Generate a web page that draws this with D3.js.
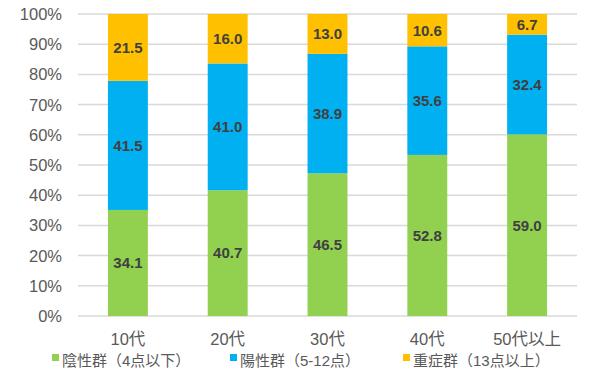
<!DOCTYPE html>
<html><head><meta charset="utf-8">
<script src="https://cdn.jsdelivr.net/npm/d3@7"></script>
<style>body{margin:0;background:#fff}svg{display:block}text{font-family:"Liberation Sans","Noto Sans CJK JP",sans-serif}</style>
</head><body><svg id="c" width="600" height="374"></svg>
<script>
const categories = ["10代","20代","30代","40代","50代以上"];
const seriesNames = ["陰性群（4点以下）","陽性群（5-12点）","重症群（13点以上）"];
const negative = [34.1,40.7,46.5,52.8,59.0];
const positive = [41.5,41.0,38.9,35.6,32.4];
const severe = [21.5,16.0,13.0,10.6,6.7];
const colors = ["#92D050","#00B0F0","#FFC000"];
const yTicks = [0,0.1,0.2,0.3,0.4,0.5,0.6,0.7,0.8,0.9,1.0];

(function(){
const svg = d3.select("#c");
const mLeft = 78, mRight = 577, mTop = 14, mBottom = 316;
const x = d3.scaleBand().domain(categories).range([mLeft,mRight]).paddingInner(0.6).paddingOuter(0.3);
const y = d3.scaleLinear().domain([0,1]).range([mBottom,mTop]);

const rows = categories.map((c,i)=>({cat:c, s0:negative[i], s1:positive[i], s2:severe[i]}));
const keys = ["s0","s1","s2"];
const stacked = d3.stack().keys(keys).offset(d3.stackOffsetExpand)(rows);

svg.append("g").selectAll("line").data(yTicks).join("line")
  .attr("x1",mLeft).attr("x2",mRight)
  .attr("y1",d=>y(d)).attr("y2",d=>y(d))
  .attr("stroke","#d9d9d9").attr("stroke-width",1.5);

svg.append("g").selectAll("text").data(yTicks).join("text")
  .attr("x",62).attr("y",d=>y(d)).attr("dy","0.36em")
  .attr("text-anchor","end").attr("font-size",16.5).attr("fill","#595959")
  .text(d=>d3.format(".0%")(d));

const g = svg.append("g");
stacked.forEach((layer,li)=>{
  g.append("g").selectAll("rect").data(layer).join("rect")
    .attr("x",d=>x(d.data.cat)).attr("width",x.bandwidth())
    .attr("y",d=>y(d[1])).attr("height",d=>y(d[0])-y(d[1]))
    .attr("fill",colors[li]);
  g.append("g").selectAll("text").data(layer).join("text")
    .attr("x",d=>x(d.data.cat)+x.bandwidth()/2)
    .attr("y",d=>(y(d[0])+y(d[1]))/2).attr("dy","0.36em")
    .attr("text-anchor","middle").attr("font-size",15).attr("font-weight","bold")
    .attr("fill","#404040")
    .text(d=>d.data[keys[li]].toFixed(1));
});

svg.append("g").selectAll("text").data(categories).join("text")
  .attr("x",d=>x(d)+x.bandwidth()/2).attr("y",345)
  .attr("text-anchor","middle").attr("font-size",16.5).attr("fill","#595959")
  .text(d=>d);

const legX = [52,230,403];
const lg = svg.append("g");
seriesNames.forEach((n,i)=>{
  lg.append("rect").attr("x",legX[i]).attr("y",354).attr("width",7).attr("height",7).attr("fill",colors[i]);
  lg.append("text").attr("x",legX[i]+10).attr("y",365.5).attr("font-size",15).attr("fill","#595959").text(n);
});
})();
</script></body></html>
